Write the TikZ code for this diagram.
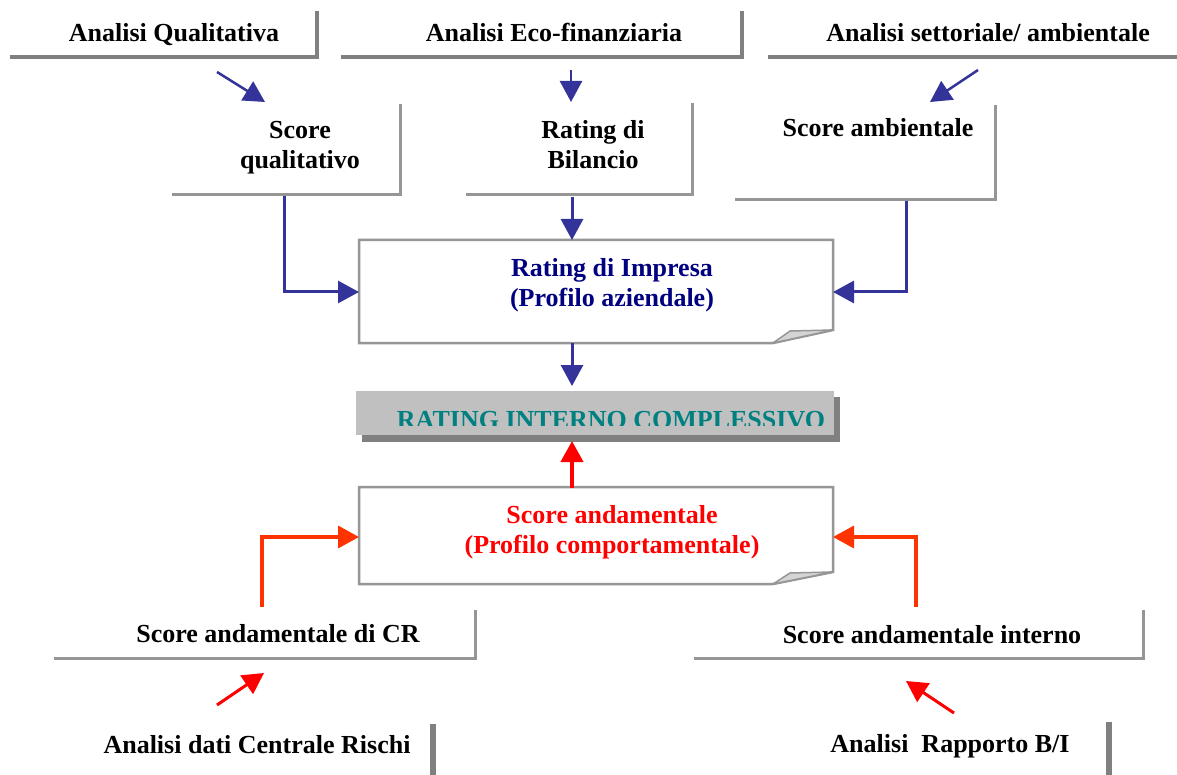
\documentclass[tikz,border=0pt]{standalone}
\usepackage{fontspec}
\setmainfont{Liberation Serif}
\usetikzlibrary{arrows.meta}
\definecolor{lgray}{HTML}{969696}
\definecolor{dgray}{HTML}{808080}
\definecolor{sgray}{HTML}{C0C0C0}
\definecolor{fold}{HTML}{D4D4D4}
\definecolor{arrblue}{HTML}{333399}
\definecolor{navy}{HTML}{000080}
\definecolor{teal2}{HTML}{008080}
\definecolor{orred}{HTML}{FF3300}
\tikzset{
  lbl/.style={font=\fontsize{26}{30}\selectfont\bfseries, inner sep=0pt, align=center},
  thickframe/.style={draw=dgray, line width=4.5pt},
  thinframe/.style={draw=lgray, line width=3pt},
  notebox/.style={draw=lgray, line width=2.5pt, fill=white, line join=miter},
  bluearr/.style={draw=arrblue, line width=3pt, -{Triangle[length=21pt,width=22pt]}},
  redarr/.style={draw=red, line width=3pt, -{Triangle[length=21pt,width=22pt]}},
  orarr/.style={draw=orred, line width=3.5pt, -{Triangle[length=21pt,width=22pt]}},
}
\begin{document}
\begin{tikzpicture}[x=1pt,y=-1pt]
\useasboundingbox[fill=white] (0,0) rectangle (1177,775);

% ---- top row frames
\draw[thickframe] (10,57) -- (317,57) -- (317,11);
\draw[thickframe] (341,57) -- (742,57) -- (742,11);
\draw[thickframe] (768,57) -- (1177,57);
\node[lbl, anchor=base] (aq) at (174,42) {Analisi Qualitativa};
\node[lbl, anchor=base] (ae) at (554,42) {Analisi Eco-finanziaria};
\node[lbl, anchor=base] (as) at (988,42) {Analisi settoriale/ ambientale};

% ---- second row frames
\draw[thinframe] (172,195) -- (400,195) -- (400,104);
\draw[thinframe] (466,195) -- (692,195) -- (692,103);
\draw[thinframe] (735,200) -- (995,200) -- (995,105);
\node[lbl] (sq) at (300,148) {Score\\qualitativo};
\node[lbl] (rb) at (593,145) {Rating di\\Bilancio};
\node[lbl, anchor=base] (sa) at (878,137) {Score ambientale};

% ---- Rating di Impresa note box
\draw[notebox] (359,240) -- (833,240) -- (833,330) -- (773,343) -- (359,343) -- cycle;
\filldraw[fill=fold, draw=lgray, line width=1.5pt, line join=round] (773,343) -- (790,331) -- (833,330) -- cycle;
\node[lbl, text=navy] (ri) at (612,285) {Rating di Impresa\\(Profilo aziendale)};

% ---- RATING INTERNO COMPLESSIVO
\fill[dgray] (362,397) rectangle (840,442);
\fill[sgray] (356,391) rectangle (834,435);
\begin{scope}
\clip (356,391) rectangle (834,425);
\node[lbl, text=teal2, anchor=base] (ric) at (611,428) {RATING INTERNO COMPLESSIVO};
\end{scope}

% ---- Score andamentale note box
\draw[notebox] (359,487) -- (833,487) -- (833,572) -- (773,584) -- (359,584) -- cycle;
\filldraw[fill=fold, draw=lgray, line width=1.5pt, line join=round] (773,584) -- (790,573) -- (833,572) -- cycle;
\node[lbl, text=red] (san) at (612,532) {Score andamentale\\(Profilo comportamentale)};

% ---- bottom second-row frames
\draw[thinframe] (54,658) -- (475,658) -- (475,610);
\draw[thinframe] (694,658) -- (1143,658) -- (1143,610);
\node[lbl, anchor=base] (scr) at (278,642) {Score andamentale di CR};
\node[lbl, anchor=base] (sin) at (932,643) {Score andamentale interno};

% ---- bottom row
\draw[draw=dgray, line width=6pt] (433,724) -- (433,775);
\draw[draw=dgray, line width=6pt] (1109,722) -- (1109,775);
\node[lbl, anchor=base] (adc) at (257,753) {Analisi dati Centrale Rischi};
\node[lbl, anchor=base] (arb) at (950,752) {Analisi\ \ Rapporto B/I};

% ---- connector end coordinates
\coordinate (aq-o) at (217,72);   \coordinate (sq-i) at (265,102);
\coordinate (ae-o) at (571,70);   \coordinate (rb-i) at (571,102);
\coordinate (as-o) at (978,70);   \coordinate (sa-i) at (930,102);
\coordinate (sq-o) at (284,196);  \coordinate (ri-w) at (359,292);
\coordinate (rb-o) at (572,197);  \coordinate (ri-n) at (572,240);
\coordinate (sa-o) at (906,201);  \coordinate (ri-e) at (833,292);
\coordinate (ri-s) at (572,343);  \coordinate (ric-n) at (572,386);
\coordinate (san-n) at (572,488); \coordinate (ric-s) at (572,441);
\coordinate (scr-o) at (262,607); \coordinate (san-w) at (359,537);
\coordinate (sin-o) at (916,607); \coordinate (san-e) at (833,537);
\coordinate (adc-o) at (217,705); \coordinate (scr-i) at (264,673);
\coordinate (arb-o) at (954,713); \coordinate (sin-i) at (906,681);

% ---- connectors
\draw[bluearr, line width=2.5pt] (aq-o) -- (sq-i);
\draw[bluearr, line width=2.5pt] (ae-o) -- (rb-i);
\draw[bluearr, line width=2.5pt] (as-o) -- (sa-i);
\draw[bluearr] (sq-o) |- (ri-w);
\draw[bluearr] (rb-o) -- (ri-n);
\draw[bluearr] (sa-o) |- (ri-e);
\draw[bluearr] (ri-s) -- (ric-n);
\draw[redarr, line width=4pt] (san-n) -- (ric-s);
\draw[orarr] (scr-o) |- (san-w);
\draw[orarr] (sin-o) |- (san-e);
\draw[redarr] (adc-o) -- (scr-i);
\draw[redarr] (arb-o) -- (sin-i);
\end{tikzpicture}
\end{document}
